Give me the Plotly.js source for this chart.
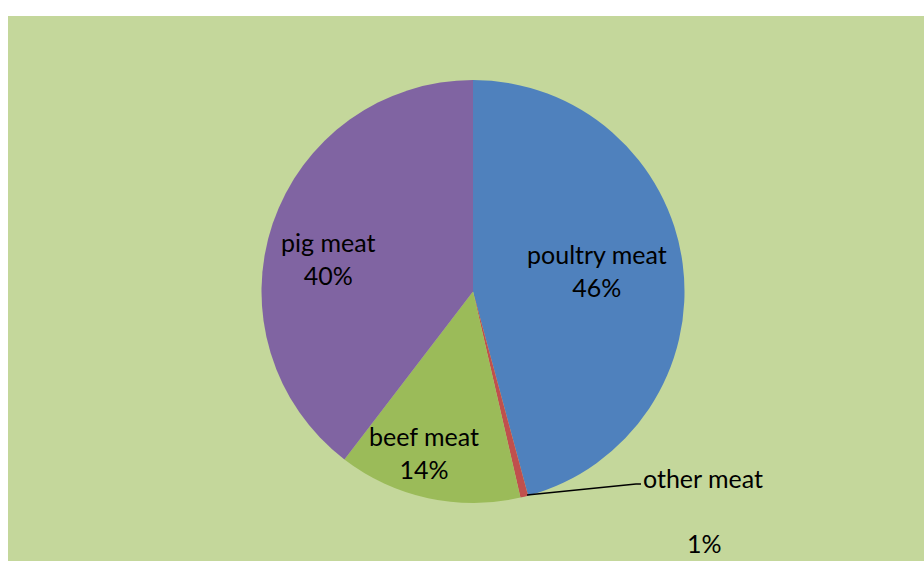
<!DOCTYPE html>
<html><head><meta charset="utf-8">
<script src="https://cdn.plot.ly/plotly-3.0.1.min.js"></script>
<style>html,body{margin:0;padding:0;background:#fff}</style>
</head><body>
<div id="chart" style="width:924px;height:561px"></div>
<script>
const categories = ["poultry meat", "other meat", "beef meat", "pig meat"];
const shares = [45.8, 0.6, 14.0, 39.6];
const colors = ["#4f81bd", "#c0504d", "#9bbb59", "#8064a2"];

const W = 924, H = 561, ML = 8, MT = 16;
const PW = W - ML, PH = H - MT;
const px = x => (x - ML) / PW;
const py = y => 1 - (y - MT) / PH;

const total = shares.reduce((a, b) => a + b, 0);
const pct = v => Math.round(v / total * 100) + "%";

// label positions (pixels) for each category
const labelPos = {
  "poultry meat": [597, 270],
  "pig meat": [328, 258],
  "beef meat": [424, 452]
};
const font = {family: "Lato, 'Open Sans', sans-serif", size: 25, color: "#000"};
const ann = (x, y, text) => ({xref: "paper", yref: "paper", x: px(x), y: py(y), text: text,
  showarrow: false, font: font, align: "center", xanchor: "center", yanchor: "middle"});
const annotations = [];
categories.forEach((c, i) => {
  if (labelPos[c]) annotations.push(ann(labelPos[c][0], labelPos[c][1], c + "<br>" + pct(shares[i])));
});
annotations.push(ann(703, 478, categories[1]));
annotations.push(ann(704, 543, pct(shares[1])));

const data = [{
  type: "pie",
  labels: categories,
  values: shares,
  sort: false,
  direction: "clockwise",
  rotation: 0,
  marker: {colors: colors, line: {width: 0}},
  textinfo: "none",
  hoverinfo: "label+percent",
  showlegend: false,
  domain: {x: [px(261), px(685)], y: [py(503), py(80)]}
}];

const layout = {
  width: W, height: H,
  margin: {l: ML, t: MT, r: 0, b: 0, pad: 0},
  paper_bgcolor: "#ffffff",
  showlegend: false,
  annotations: annotations,
  shapes: [
    {type: "rect", xref: "paper", yref: "paper", x0: 0, x1: 1, y0: 0, y1: 1,
     fillcolor: "#c4d79b", line: {width: 0}, layer: "below"},
    {type: "path", xref: "paper", yref: "paper",
     path: `M ${px(527)} ${py(495)} L ${px(636)} ${py(484)} L ${px(641)} ${py(484)}`,
     line: {color: "#000", width: 1.5}}
  ]
};
Plotly.newPlot("chart", data, layout, {displayModeBar: false, staticPlot: true});
</script>
</body></html>
